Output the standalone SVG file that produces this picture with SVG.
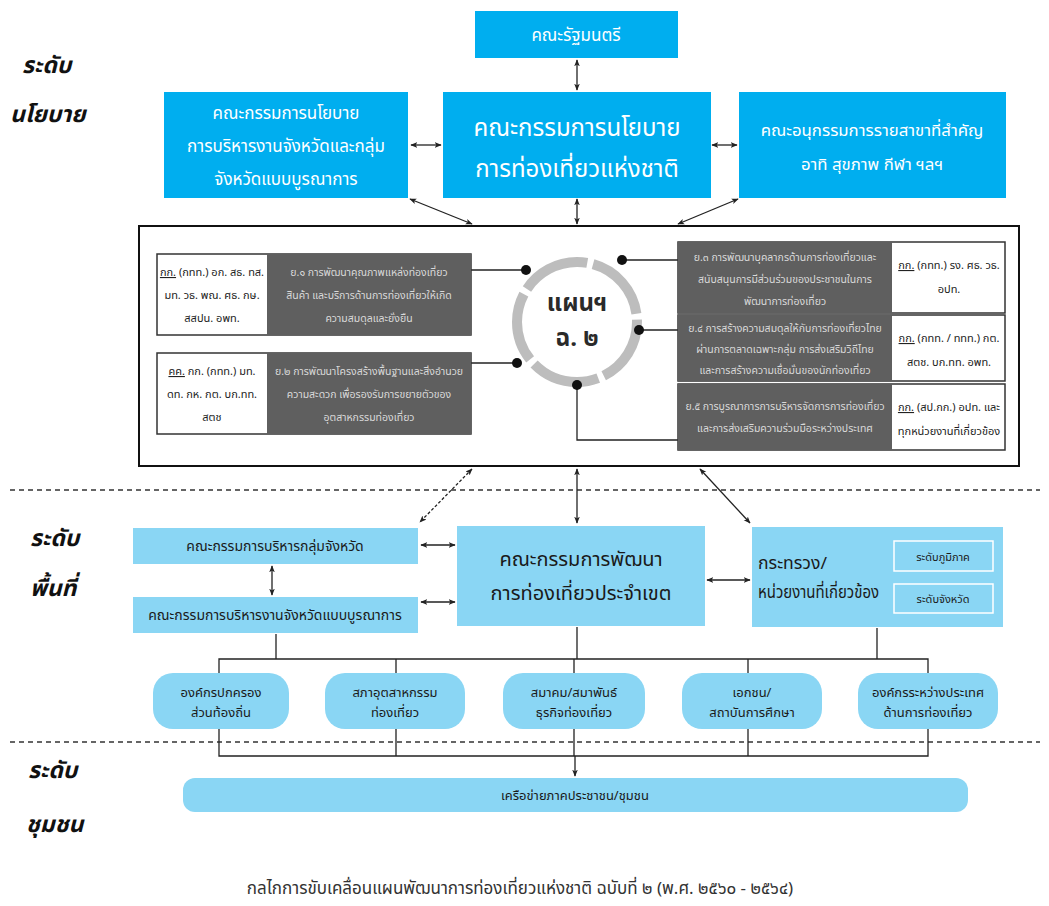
<svg xmlns="http://www.w3.org/2000/svg" width="1049" height="906" viewBox="0 0 1049 906">
<defs>
<marker id="ah" viewBox="0 0 10 10" refX="9" refY="5" markerWidth="7" markerHeight="7" orient="auto-start-reverse" markerUnits="userSpaceOnUse">
<path d="M0,1 L10,5 L0,9 L2.5,5 z" fill="#222"/>
</marker>
<style>
text{font-family:"Noto Sans Thai","Loma","Garuda","Tlwg Typo","DejaVu Sans",sans-serif;}
.top{fill:#00aeef;}
.mid{fill:#8ad6f4;}
.wt{fill:#ffffff;text-anchor:middle;}
.dk{fill:#1a1a1a;text-anchor:middle;}
.gr{fill:#5f5f5f;}
.gt{fill:#d9d9d9;text-anchor:middle;font-size:10.5px;}
.bt{fill:#222;text-anchor:middle;font-size:11px;}
.lvl{fill:#111;font-weight:bold;font-style:italic;font-size:23px;}
.cn{stroke:#222;stroke-width:1.3;fill:none;}
.ar{stroke:#222;stroke-width:1.3;fill:none;marker-start:url(#ah);marker-end:url(#ah);}
.sep{stroke:#333;stroke-width:1.3;stroke-dasharray:5 4;fill:none;}
.dot{fill:#111;}
</style>
</defs>
<rect width="1049" height="906" fill="#ffffff"/>

<!-- level labels -->
<g id="levels">
<text class="lvl" x="22" y="73">ระดับ</text>
<text class="lvl" x="10" y="122">นโยบาย</text>
<text class="lvl" x="30" y="546">ระดับ</text>
<text class="lvl" x="30" y="596">พื้นที่</text>
<text class="lvl" x="28" y="778">ระดับ</text>
<text class="lvl" x="26" y="832">ชุมชน</text>
</g>

<g id="separators">
<line class="sep" x1="10" y1="490" x2="1040" y2="490"/>
<line class="sep" x1="10" y1="742" x2="1040" y2="742"/>
</g>

<!-- connectors -->
<g id="connectors">
<line class="ar" x1="577" y1="60" x2="577" y2="90"/>
<line class="ar" x1="411" y1="145" x2="441" y2="145"/>
<line class="ar" x1="712" y1="145" x2="737" y2="145"/>
<line class="ar" x1="472" y1="224" x2="410" y2="199"/>
<line class="ar" x1="577" y1="224" x2="577" y2="199"/>
<line class="ar" x1="678" y1="224" x2="738" y2="199"/>
<line class="ar" x1="472" y1="469" x2="420" y2="522" stroke-dasharray="3 2"/>
<line class="ar" x1="577" y1="469" x2="577" y2="523"/>
<line class="ar" x1="700" y1="469" x2="750" y2="523"/>
<line class="ar" x1="421" y1="545" x2="455" y2="545"/>
<line class="ar" x1="421" y1="602" x2="455" y2="602"/>
<line class="ar" x1="707" y1="580" x2="750" y2="580"/>
<line class="ar" x1="272" y1="566" x2="272" y2="595"/>
<!-- tree above bubbles -->
<path class="cn" d="M219,673 V659 H928 V673 M396,659 V673 M574,659 V673 M748,659 V673 M276,659 V634 M577,659 V627 M877,659 V628"/>
<!-- tree below bubbles -->
<path class="cn" d="M219,729 V756 H928 V729 M396,729 V756 M574,729 V756 M748,729 V756"/>
<line class="cn" x1="575" y1="756" x2="575" y2="776" marker-end="url(#ah)"/>
</g>

<!-- policy level -->
<g id="cabinet">
<rect class="top" x="475" y="11" width="203" height="47"/>
<text class="wt" x="576" y="41" font-size="17">คณะรัฐมนตรี</text>
</g>
<g id="provincial-policy">
<rect class="top" x="164" y="92" width="244" height="106"/>
<text class="wt" x="286" y="119" font-size="17">คณะกรรมการนโยบาย</text>
<text class="wt" x="286" y="152" font-size="17">การบริหารงานจังหวัดและกลุ่ม</text>
<text class="wt" x="286" y="185" font-size="17">จังหวัดแบบบูรณาการ</text>
</g>
<g id="national-policy">
<rect class="top" x="443" y="92" width="268" height="106"/>
<text class="wt" x="577" y="136" font-size="24">คณะกรรมการนโยบาย</text>
<text class="wt" x="577" y="177" font-size="24">การท่องเที่ยวแห่งชาติ</text>
</g>
<g id="subcommittee">
<rect class="top" x="739" y="92" width="267" height="106"/>
<text class="wt" x="872" y="136" font-size="16.8">คณะอนุกรรมการรายสาขาที่สำคัญ</text>
<text class="wt" x="872" y="170" font-size="16.8">อาทิ สุขภาพ กีฬา ฯลฯ</text>
</g>

<!-- plan panel -->
<g id="plan-panel">
<rect x="139" y="226" width="880" height="240" fill="#fff" stroke="#111" stroke-width="2"/>
</g>

<g id="plan-ring">
<circle cx="577" cy="322" r="60" fill="none" stroke="#bdbdbd" stroke-width="10" stroke-dasharray="69.4 6" stroke-dashoffset="3"/>
<text x="577" y="311" text-anchor="middle" font-size="24" font-weight="bold" fill="#2a2a2a">แผนฯ</text>
<text x="577" y="346" text-anchor="middle" font-size="24" font-weight="bold" fill="#2a2a2a">ฉ. ๒</text>
</g>

<g id="plan-links">
<path class="cn" d="M471,270 H526" stroke-width="2"/>
<circle class="dot" cx="526" cy="270" r="5"/>
<path class="cn" d="M471,363 H517" stroke-width="2"/>
<circle class="dot" cx="517" cy="363" r="5"/>
<path class="cn" d="M622,260 H678" stroke-width="2"/>
<circle class="dot" cx="622" cy="260" r="5"/>
<path class="cn" d="M639,330 H678" stroke-width="2"/>
<circle class="dot" cx="639" cy="330" r="5"/>
<path class="cn" d="M577,385 V440 H678" stroke-width="2"/>
<circle class="dot" cx="577" cy="385" r="5"/>
</g>

<g id="strategy-1">
<rect x="157" y="254" width="314" height="81" fill="#fff" stroke="#333" stroke-width="1.5"/>
<rect class="gr" x="267" y="254" width="204" height="81"/>
<text class="gt" x="369" y="276">ย.๑ การพัฒนาคุณภาพแหล่งท่องเที่ยว</text>
<text class="gt" x="369" y="299">สินค้า และบริการด้านการท่องเที่ยวให้เกิด</text>
<text class="gt" x="369" y="322">ความสมดุลและยั่งยืน</text>
<text class="bt" x="212" y="276"><tspan text-decoration="underline">กก.</tspan> (กทท.) อก. สธ. ทส.</text>
<text class="bt" x="212" y="299">มท. วธ. พณ. ศธ. กษ.</text>
<text class="bt" x="212" y="322">สสปน. อพท.</text>
</g>

<g id="strategy-2">
<rect x="157" y="353" width="314" height="81" fill="#fff" stroke="#333" stroke-width="1.5"/>
<rect class="gr" x="267" y="353" width="204" height="81"/>
<text class="gt" x="369" y="375">ย.๒ การพัฒนาโครงสร้างพื้นฐานและสิ่งอำนวย</text>
<text class="gt" x="369" y="398">ความสะดวก เพื่อรองรับการขยายตัวของ</text>
<text class="gt" x="369" y="421">อุตสาหกรรมท่องเที่ยว</text>
<text class="bt" x="212" y="375"><tspan text-decoration="underline">คค.</tspan> กก. (กทท.) มท.</text>
<text class="bt" x="212" y="398">ดท. กห. กต. บก.ทท.</text>
<text class="bt" x="212" y="421">สตช</text>
</g>

<g id="strategy-3">
<rect x="678" y="242" width="327" height="71" fill="#fff" stroke="#333" stroke-width="1.5"/>
<rect class="gr" x="678" y="242" width="214" height="71"/>
<text class="gt" x="785" y="261">ย.๓ การพัฒนาบุคลากรด้านการท่องเที่ยวและ</text>
<text class="gt" x="785" y="283">สนับสนุนการมีส่วนร่วมของประชาชนในการ</text>
<text class="gt" x="785" y="305">พัฒนาการท่องเที่ยว</text>
<text class="bt" x="949" y="269"><tspan text-decoration="underline">กก.</tspan> (กทท.) รง. ศธ. วธ.</text>
<text class="bt" x="949" y="293">อปท.</text>
</g>

<g id="strategy-4">
<rect x="678" y="315" width="327" height="66" fill="#fff" stroke="#333" stroke-width="1.5"/>
<rect class="gr" x="678" y="315" width="214" height="66"/>
<text class="gt" x="785" y="332">ย.๔ การสร้างความสมดุลให้กับการท่องเที่ยวไทย</text>
<text class="gt" x="785" y="353">ผ่านการตลาดเฉพาะกลุ่ม การส่งเสริมวิถีไทย</text>
<text class="gt" x="785" y="374">และการสร้างความเชื่อมั่นของนักท่องเที่ยว</text>
<text class="bt" x="949" y="342"><tspan text-decoration="underline">กก.</tspan> (กทท. / ททท.) กต.</text>
<text class="bt" x="949" y="366">สตช. บก.ทท. อพท.</text>
</g>

<g id="strategy-5">
<rect x="678" y="384" width="327" height="66" fill="#fff" stroke="#333" stroke-width="1.5"/>
<rect class="gr" x="678" y="384" width="214" height="66"/>
<text class="gt" x="785" y="410">ย.๕ การบูรณาการการบริหารจัดการการท่องเที่ยว</text>
<text class="gt" x="785" y="432">และการส่งเสริมความร่วมมือระหว่างประเทศ</text>
<text class="bt" x="949" y="411"><tspan text-decoration="underline">กก.</tspan> (สป.กก.) อปท. และ</text>
<text class="bt" x="949" y="435">ทุกหน่วยงานที่เกี่ยวข้อง</text>
</g>

<!-- area level -->
<g id="cluster-committee">
<rect class="mid" x="133" y="528" width="285" height="36"/>
<text class="dk" x="275" y="551" font-size="14">คณะกรรมการบริหารกลุ่มจังหวัด</text>
</g>
<g id="province-committee">
<rect class="mid" x="133" y="597" width="285" height="36"/>
<text class="dk" x="275" y="620" font-size="14">คณะกรรมการบริหารงานจังหวัดแบบบูรณาการ</text>
</g>
<g id="regional-committee">
<rect class="mid" x="457" y="526" width="248" height="100"/>
<text class="dk" x="581" y="566" font-size="20">คณะกรรมการพัฒนา</text>
<text class="dk" x="581" y="600" font-size="20">การท่องเที่ยวประจำเขต</text>
</g>
<g id="ministries">
<rect class="mid" x="752" y="527" width="251" height="100"/>
<text x="758" y="569" font-size="17" fill="#1a1a1a" textLength="69" lengthAdjust="spacingAndGlyphs">กระทรวง/</text>
<text x="758" y="598" font-size="17" fill="#1a1a1a" textLength="121" lengthAdjust="spacingAndGlyphs">หน่วยงานที่เกี่ยวข้อง</text>
<rect x="894" y="541" width="99" height="30" fill="none" stroke="#fff" stroke-width="1.5"/>
<text class="dk" x="943" y="561" font-size="11">ระดับภูมิภาค</text>
<rect x="894" y="584" width="99" height="29" fill="none" stroke="#fff" stroke-width="1.5"/>
<text class="dk" x="943" y="603" font-size="11">ระดับจังหวัด</text>
</g>

<g id="local-gov">
<rect class="mid" x="153" y="673" width="136" height="56" rx="20"/>
<text class="dk" x="221" y="697" font-size="13">องค์กรปกครอง</text>
<text class="dk" x="221" y="717" font-size="13">ส่วนท้องถิ่น</text>
</g>
<g id="tourism-council">
<rect class="mid" x="325" y="673" width="140" height="56" rx="20"/>
<text class="dk" x="395" y="697" font-size="13">สภาอุตสาหกรรม</text>
<text class="dk" x="395" y="717" font-size="13">ท่องเที่ยว</text>
</g>
<g id="associations">
<rect class="mid" x="503" y="673" width="142" height="56" rx="20"/>
<text class="dk" x="574" y="697" font-size="13">สมาคม/สมาพันธ์</text>
<text class="dk" x="574" y="717" font-size="13">ธุรกิจท่องเที่ยว</text>
</g>
<g id="private-edu">
<rect class="mid" x="682" y="673" width="140" height="56" rx="20"/>
<text class="dk" x="752" y="697" font-size="13">เอกชน/</text>
<text class="dk" x="752" y="717" font-size="13">สถาบันการศึกษา</text>
</g>
<g id="intl-orgs">
<rect class="mid" x="858" y="673" width="140" height="56" rx="20"/>
<text class="dk" x="928" y="697" font-size="13">องค์กรระหว่างประเทศ</text>
<text class="dk" x="928" y="717" font-size="13">ด้านการท่องเที่ยว</text>
</g>

<!-- community level -->
<g id="community-network">
<rect class="mid" x="183" y="778" width="785" height="34" rx="12"/>
<text class="dk" x="575" y="800" font-size="13">เครือข่ายภาคประชาชน/ชุมชน</text>
</g>

<g id="caption">
<text x="520" y="894" text-anchor="middle" font-size="17" fill="#333">กลไกการขับเคลื่อนแผนพัฒนาการท่องเที่ยวแห่งชาติ ฉบับที่ ๒ (พ.ศ. ๒๕๖๐ - ๒๕๖๔)</text>
</g>
</svg>
